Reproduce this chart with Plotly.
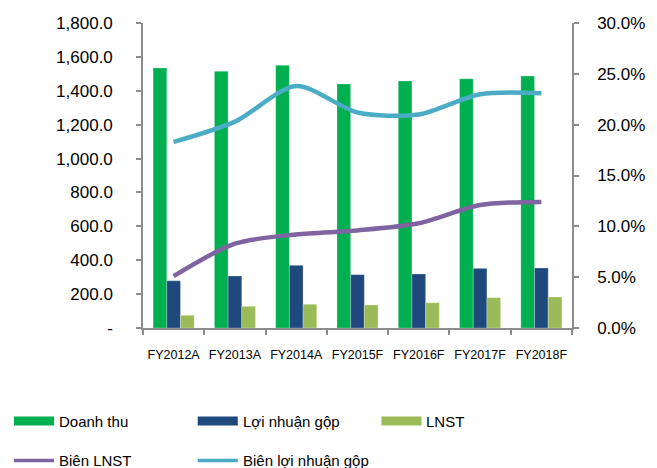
import plotly.graph_objects as go

# ---- data ----
years = ["FY2012A", "FY2013A", "FY2014A", "FY2015F", "FY2016F", "FY2017F", "FY2018F"]
doanh_thu = [1535, 1515, 1550, 1440, 1458, 1471, 1487]
loi_nhuan_gop = [279, 307, 370, 315, 319, 352, 354]
lnst = [75, 128, 140, 136, 149, 179, 183]
bien_lnst = [0.051, 0.083, 0.092, 0.096, 0.103, 0.121, 0.124]
bien_ln_gop = [0.183, 0.203, 0.238, 0.212, 0.210, 0.230, 0.231]

left_ticks = [0, 200, 400, 600, 800, 1000, 1200, 1400, 1600, 1800]
left_ticktext = ["-"] + [f"{v:,.1f}" for v in left_ticks[1:]]
right_ticks = [0, 0.05, 0.10, 0.15, 0.20, 0.25, 0.30]

C_DT = "#00B050"
C_LNG = "#1F497D"
C_LNST = "#9BBB59"
C_BLNST = "#8064A2"
C_BLNG = "#4BACC6"
AXIS = "#8C8C8C"
FONT = "Liberation Sans, Arial, sans-serif"

fig = go.Figure()
fig.add_bar(x=years, y=doanh_thu, name="Doanh thu", marker_color=C_DT,
            marker_line=dict(color="rgba(255,255,255,0.5)", width=0.5))
fig.add_bar(x=years, y=loi_nhuan_gop, name="Lợi nhuận gộp", marker_color=C_LNG,
            marker_line=dict(color="rgba(255,255,255,0.5)", width=0.5))
fig.add_bar(x=years, y=lnst, name="LNST", marker_color=C_LNST,
            marker_line=dict(color="rgba(255,255,255,0.5)", width=0.5))
fig.add_scatter(x=years, y=bien_lnst, name="Biên LNST", yaxis="y2", mode="lines",
                line=dict(color=C_BLNST, width=4.5, shape="spline", smoothing=0.8))
fig.add_scatter(x=years, y=bien_ln_gop, name="Biên lợi nhuận gộp", yaxis="y2", mode="lines",
                line=dict(color=C_BLNG, width=4.5, shape="spline", smoothing=0.8))

# plot area in pixels (used for the hand-drawn legend below)
W, H = 657, 468
L, R, T, B = 143, 75, 23, 140
PW, PH = W - L - R, H - T - B


def px(x):
    return (x - L) / PW


def py(y):
    return (H - B - y) / PH


shapes = []
annotations = []
legend_items = [
    ("bar", C_DT, "Doanh thu", 11, 421),
    ("bar", C_LNG, "Lợi nhuận gộp", 199, 421),
    ("bar", C_LNST, "LNST", 387, 421),
    ("line", C_BLNST, "Biên LNST", 11, 460.5),
    ("line", C_BLNG, "Biên lợi nhuận gộp", 199, 460.5),
]
for kind, color, label, x0, yc in legend_items:
    if kind == "bar":
        shapes.append(dict(type="rect", xref="paper", yref="paper",
                           x0=px(x0), x1=px(x0 + 41), y0=py(yc - 4.5), y1=py(yc + 4.5),
                           fillcolor=color, line=dict(width=0)))
    else:
        shapes.append(dict(type="line", xref="paper", yref="paper",
                           x0=px(x0), x1=px(x0 + 41), y0=py(yc), y1=py(yc),
                           line=dict(color=color, width=3.5)))
    annotations.append(dict(text=label, xref="paper", yref="paper",
                            x=px(x0 + 44), y=py(yc), xanchor="left", yanchor="middle",
                            showarrow=False, font=dict(family=FONT, size=15, color="#000")))

fig.update_layout(
    width=W, height=H,
    margin=dict(l=L, r=R, t=T, b=B, pad=0),
    paper_bgcolor="white", plot_bgcolor="white",
    barmode="group", bargap=0.33, bargroupgap=0,
    showlegend=False,
    font=dict(family=FONT, color="#000"),
    xaxis=dict(type="category", showgrid=False, showline=True, linecolor=AXIS, linewidth=1.5,
               ticks="outside", tickson="boundaries", ticklen=5, tickcolor=AXIS, tickwidth=1.5,
               tickangle=0, tickfont=dict(size=12.5), ticklabelstandoff=14),
    yaxis=dict(range=[0, 1800], tickvals=left_ticks, ticktext=left_ticktext,
               showgrid=False, zeroline=False, showline=True, linecolor=AXIS, linewidth=1.5,
               ticks="outside", ticklen=5, tickcolor=AXIS, tickwidth=1.5,
               tickfont=dict(size=17), ticklabelstandoff=20),
    yaxis2=dict(range=[0, 0.30], tickvals=right_ticks, tickformat=".1%", overlaying="y",
                side="right", showgrid=False, zeroline=False, showline=True, linecolor=AXIS,
                linewidth=1.5, ticks="outside", ticklen=5, tickcolor=AXIS, tickwidth=1.5,
                tickfont=dict(size=17), ticklabelstandoff=15),
    shapes=shapes,
    annotations=annotations,
)

fig.write_html("out.html")
